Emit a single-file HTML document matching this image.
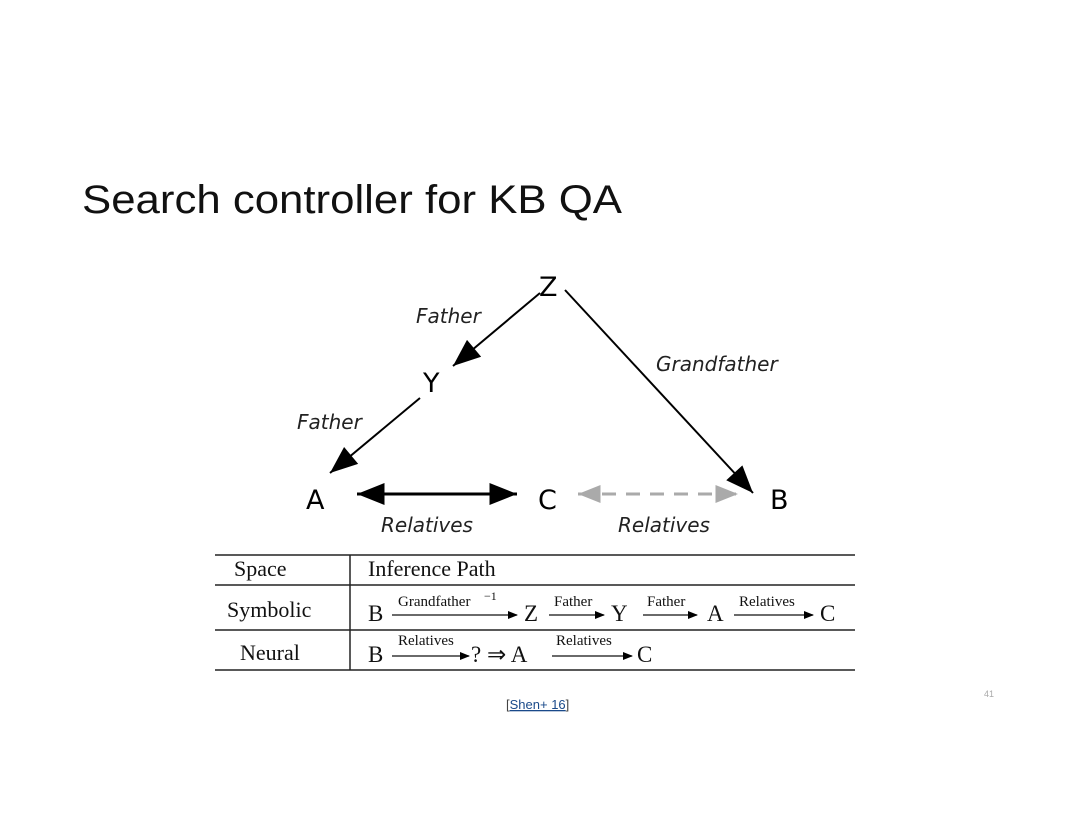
<!DOCTYPE html>
<html><head><meta charset="utf-8"><style>
html,body{margin:0;padding:0;background:#fff;}
body{width:1080px;height:835px;overflow:hidden;position:relative;}
svg{position:absolute;left:0;top:0;}
</style></head><body>
<svg width="1080" height="835" xmlns="http://www.w3.org/2000/svg">
<defs>
<marker id="ah" markerWidth="10" markerHeight="8" refX="9" refY="4" orient="auto" markerUnits="userSpaceOnUse" viewBox="0 0 10 8">
<path d="M0,0 L10,4 L0,8 Z" fill="#000"/></marker>
<marker id="big" viewBox="0 0 10 8" refX="10" refY="4" markerWidth="30" markerHeight="22" orient="auto-start-reverse" markerUnits="userSpaceOnUse"><path d="M0,0 L10,4 L0,8 Z" fill="#000"/></marker>
<marker id="gray" viewBox="0 0 10 8" refX="10" refY="4" markerWidth="26" markerHeight="18" orient="auto-start-reverse" markerUnits="userSpaceOnUse"><path d="M0,0 L10,4 L0,8 Z" fill="#aaa"/></marker>
</defs>
<text x="82" y="213" font-family="Liberation Sans, sans-serif" font-size="40" fill="#111" textLength="540" lengthAdjust="spacingAndGlyphs">Search controller for KB QA</text>
<g font-family="DejaVu Sans, sans-serif" font-size="27" fill="#000">
<text x="539" y="296">Z</text>
<text x="423" y="392">Y</text>
<text x="306" y="509">A</text>
<text x="538" y="509">C</text>
<text x="770" y="509">B</text>
</g>
<g font-family="DejaVu Sans, sans-serif" font-style="italic" font-size="20" fill="#222">
<text x="416" y="323">Father</text>
<text x="297" y="429">Father</text>
<text x="656" y="371">Grandfather</text>
<text x="381" y="532">Relatives</text>
<text x="618" y="532">Relatives</text>
</g>
<g stroke="#000" stroke-width="2" fill="none">
<line x1="540" y1="293" x2="453" y2="366" marker-end="url(#big)"/>
<line x1="420" y1="398" x2="330" y2="473" marker-end="url(#big)"/>
<line x1="565" y1="290" x2="753" y2="493" marker-end="url(#big)"/>
<line x1="357" y1="494" x2="517" y2="494" stroke-width="3" marker-start="url(#big)" marker-end="url(#big)"/>
</g>
<line x1="578" y1="494" x2="738" y2="494" stroke="#aaa" stroke-width="3" stroke-dasharray="14,10" marker-start="url(#gray)" marker-end="url(#gray)"/>
<g stroke="#222" stroke-width="1.5">
<line x1="215" y1="555" x2="855" y2="555"/>
<line x1="215" y1="585" x2="855" y2="585"/>
<line x1="215" y1="630" x2="855" y2="630"/>
<line x1="215" y1="670" x2="855" y2="670"/>
<line x1="350" y1="555" x2="350" y2="670"/>
</g>
<g font-family="Liberation Serif, serif" fill="#111">
<text x="234" y="576" font-size="22">Space</text>
<text x="368" y="576" font-size="22">Inference Path</text>
<text x="227" y="617" font-size="22">Symbolic</text>
<text x="240" y="660" font-size="22">Neural</text>
<g font-size="23">
<text x="368" y="621">B</text><text x="524" y="621">Z</text><text x="611" y="621">Y</text><text x="707" y="621">A</text><text x="820" y="621">C</text>
<text x="368" y="662">B</text><text x="471" y="662">? ⇒ A</text><text x="637" y="662">C</text>
</g>
<g font-size="15">
<text x="398" y="606">Grandfather</text><text x="484" y="600" font-size="12">−1</text>
<text x="554" y="606">Father</text><text x="647" y="606">Father</text><text x="739" y="606">Relatives</text>
<text x="398" y="645">Relatives</text><text x="556" y="645">Relatives</text>
</g>
</g>
<g stroke="#111" stroke-width="1.2" fill="none">
<line x1="392" y1="615" x2="517" y2="615" marker-end="url(#ah)"/>
<line x1="549" y1="615" x2="604" y2="615" marker-end="url(#ah)"/>
<line x1="643" y1="615" x2="697" y2="615" marker-end="url(#ah)"/>
<line x1="734" y1="615" x2="813" y2="615" marker-end="url(#ah)"/>
<line x1="392" y1="656" x2="469" y2="656" marker-end="url(#ah)"/>
<line x1="552" y1="656" x2="632" y2="656" marker-end="url(#ah)"/>
</g>
<text x="506" y="709" font-family="Liberation Sans, sans-serif" font-size="13" fill="#444">[<tspan fill="#1a4a8a" text-decoration="underline">Shen+ 16</tspan>]</text>
<text x="984" y="697" font-family="Liberation Sans, sans-serif" font-size="9" fill="#aaa">41</text>
</svg>
</body></html>
